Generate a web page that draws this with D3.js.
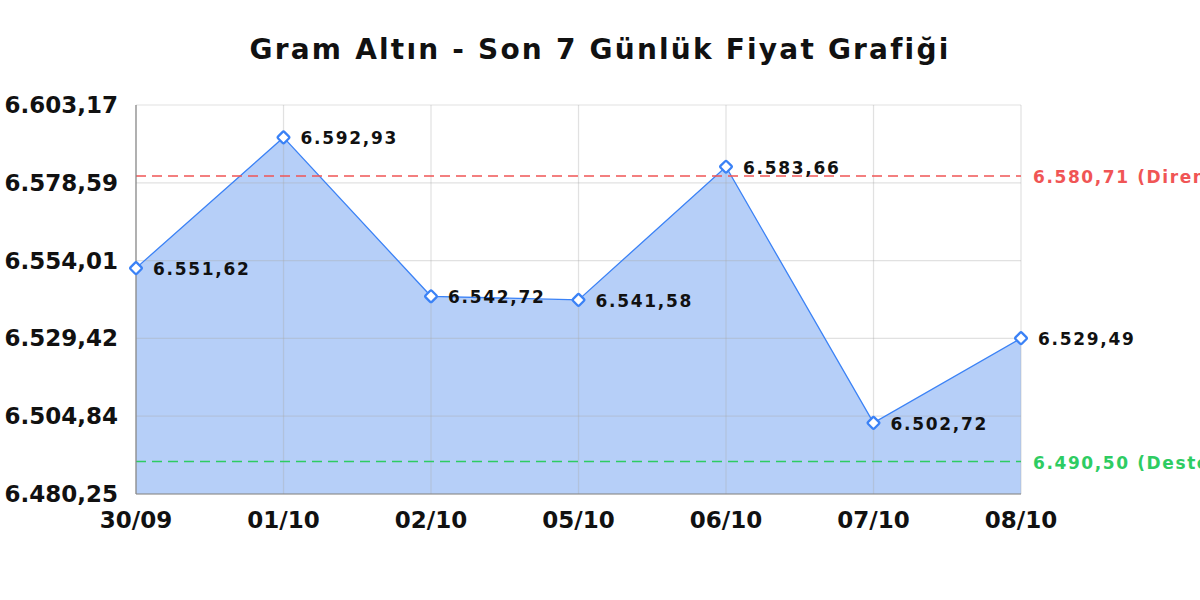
<!DOCTYPE html>
<html><head><meta charset="utf-8">
<script src="https://cdn.jsdelivr.net/npm/d3@7"></script>
<style>
html,body{margin:0;padding:0;background:#fff;}
svg{display:block;font-family:"DejaVu Sans",sans-serif;}
</style></head>
<body>
<svg id="chart" width="1200" height="600"></svg>
<script>
const titleText = "Gram Altın - Son 7 Günlük Fiyat Grafiği";
const categories = ["30/09","01/10","02/10","05/10","06/10","07/10","08/10"];
const prices = [6551.62, 6592.93, 6542.72, 6541.58, 6583.66, 6502.72, 6529.49];
const yTicks = [6480.25, 6504.84, 6529.42, 6554.01, 6578.59, 6603.17];
const resistance = 6580.71;
const support = 6490.50;
const resistanceLabel = "Direnç";
const supportLabel = "Destek";

const loc = d3.formatLocale({decimal:",", thousands:".", grouping:[3], currency:["₺",""]});
const fmt = loc.format(",.2f");

const svg = d3.select("#chart");
const m = {left:136, right:1021, top:105, bottom:494};

const x = d3.scalePoint().domain(categories).range([m.left, m.right]).padding(0);
const y = d3.scaleLinear().domain([yTicks[0], yTicks[yTicks.length-1]]).range([m.bottom, m.top]);

// title
svg.append("text").attr("x",600).attr("y",59).attr("text-anchor","middle")
  .attr("font-size",28).attr("font-weight","bold").attr("letter-spacing",2.2).attr("fill","#111").text(titleText);

// area
const pts = categories.map((c,i)=>({c, v:prices[i]}));
const area = d3.area().x(d=>x(d.c)).y0(m.bottom).y1(d=>y(d.v));
const line = d3.line().x(d=>x(d.c)).y(d=>y(d.v));

// grid
const g = svg.append("g");
g.selectAll("line.hg").data(yTicks).join("line")
  .attr("x1",m.left).attr("x2",m.right).attr("y1",d=>y(d)).attr("y2",d=>y(d))
  .attr("stroke","#e3e3e3").attr("stroke-width",1.2);
g.selectAll("line.vg").data(categories).join("line")
  .attr("x1",d=>x(d)).attr("x2",d=>x(d)).attr("y1",m.top).attr("y2",m.bottom)
  .attr("stroke","#e3e3e3").attr("stroke-width",1.2);

svg.append("path").datum(pts).attr("d",area).attr("fill","#b6cff8");
g.raise();
g.selectAll("line").attr("stroke","rgba(170,170,170,0.35)");

svg.append("path").datum(pts).attr("d",line).attr("fill","none").attr("stroke","#3b82f6").attr("stroke-width",1.3);

// reference lines
svg.append("line").attr("x1",m.left).attr("x2",m.right).attr("y1",y(resistance)).attr("y2",y(resistance))
  .attr("stroke","#f05555").attr("stroke-width",1.5).attr("stroke-dasharray","10,6");
svg.append("line").attr("x1",m.left).attr("x2",m.right).attr("y1",y(support)).attr("y2",y(support))
  .attr("stroke","#2ecc62").attr("stroke-width",1.5).attr("stroke-dasharray","10,6");

svg.append("text").attr("x",1033).attr("y",y(resistance)+7).attr("font-size",17).attr("font-weight","bold")
  .attr("letter-spacing",1.6).attr("fill","#f05555").text(fmt(resistance)+" ("+resistanceLabel+")");
svg.append("text").attr("x",1033).attr("y",y(support)+7).attr("font-size",17).attr("font-weight","bold")
  .attr("letter-spacing",1.6).attr("fill","#2ecc62").text(fmt(support)+" ("+supportLabel+")");

// axes lines
svg.append("line").attr("x1",m.left).attr("x2",m.left).attr("y1",m.top).attr("y2",m.bottom)
  .attr("stroke","#888").attr("stroke-width",1.2);
svg.append("line").attr("x1",m.left).attr("x2",m.right).attr("y1",m.bottom).attr("y2",m.bottom)
  .attr("stroke","#888").attr("stroke-width",1.2);

// y tick labels
svg.selectAll("text.yl").data(yTicks).join("text")
  .attr("x",118).attr("y",d=>y(d)+8).attr("text-anchor","end")
  .attr("font-size",23).attr("font-weight","bold").attr("fill","#111").text(d=>fmt(d));

// x tick labels
svg.selectAll("text.xl").data(categories).join("text")
  .attr("x",d=>x(d)).attr("y",528).attr("text-anchor","middle")
  .attr("font-size",23).attr("font-weight","bold").attr("fill","#111").text(d=>d);

// markers
svg.selectAll("rect.mk").data(pts).join("rect")
  .attr("x",-4.5).attr("y",-4.5).attr("width",9).attr("height",9).attr("rx",1.5)
  .attr("transform",d=>`translate(${x(d.c)},${y(d.v)}) rotate(45)`)
  .attr("fill","#fff").attr("stroke","#3b82f6").attr("stroke-width",2.3);

// data labels
svg.selectAll("text.dl").data(pts).join("text")
  .attr("x",d=>x(d.c)+17).attr("y",d=>y(d.v)+7)
  .attr("font-size",17).attr("font-weight","bold").attr("letter-spacing",1.7)
  .attr("fill","#111").text(d=>fmt(d.v));
</script>
</body></html>
